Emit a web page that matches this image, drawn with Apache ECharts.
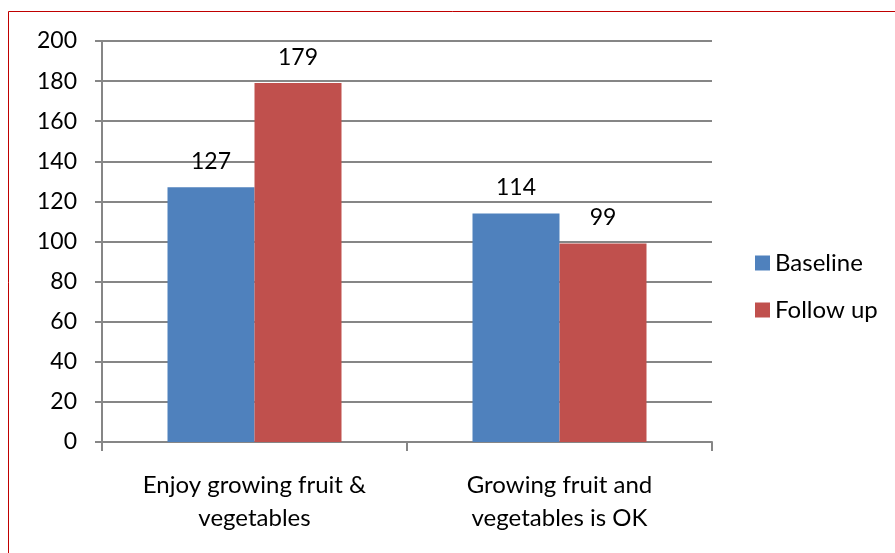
<!DOCTYPE html>
<html><head><meta charset="utf-8">
<script src="https://cdn.jsdelivr.net/npm/echarts@6/dist/echarts.min.js"></script>
<style>html,body{margin:0;padding:0;background:#fff}#c{width:895px;height:553px}</style>
</head><body><div id="c"></div>
<script>
var categories = ['Enjoy growing fruit &\nvegetables', 'Growing fruit and\nvegetables is OK'];
var seriesNames = ['Baseline', 'Follow up'];
var baseline = [127, 114];
var followUp = [179, 99];
var yTicks = [0, 200, 20];

var chart = echarts.init(document.getElementById('c'));
var font = 'Lato, "Open Sans", sans-serif';
var colors = ['#4F81BD', '#C0504D'];
chart.setOption({
  animation: false,
  textStyle: {fontFamily: font},
  graphic: [{type: 'rect', shape: {x: 8.5, y: 11.5, width: 900, height: 600}, style: {fill: null, stroke: '#C00000', lineWidth: 1}, z: -1}],
  grid: {left: 102, right: 183, top: 41, bottom: 111},
  legend: {
    orient: 'vertical', left: 755, top: 251, itemWidth: 15, itemHeight: 15, itemGap: 23, padding: 0,
    icon: 'rect',
    textStyle: {fontSize: 24, color: '#000', fontFamily: font},
    data: seriesNames
  },
  xAxis: {
    type: 'category', data: categories,
    axisLine: {lineStyle: {color: '#868686', width: 2}},
    axisTick: {show: true, length: 9, alignWithLabel: false, lineStyle: {color: '#868686', width: 2}},
    axisLabel: {fontSize: 24, color: '#000', margin: 27, lineHeight: 33, fontFamily: font}
  },
  yAxis: {
    type: 'value', min: yTicks[0], max: yTicks[1], interval: yTicks[2],
    axisLine: {show: true, lineStyle: {color: '#868686', width: 2}},
    axisTick: {show: true, length: 7, inside: false, lineStyle: {color: '#868686', width: 2}},
    splitLine: {lineStyle: {color: '#868686', width: 2}},
    axisLabel: {fontSize: 23, color: '#000', margin: 25, fontFamily: font}
  },
  series: [
    {name: seriesNames[0], type: 'bar', data: baseline, barWidth: 87, barGap: '0%', itemStyle: {color: colors[0]},
     label: {show: true, position: 'top', distance: 14, fontSize: 23, color: '#000', fontFamily: font}},
    {name: seriesNames[1], type: 'bar', data: followUp, barWidth: 87, barGap: '0%', itemStyle: {color: colors[1]},
     label: {show: true, position: 'top', distance: 14, fontSize: 23, color: '#000', fontFamily: font}}
  ]
});
</script></body></html>
